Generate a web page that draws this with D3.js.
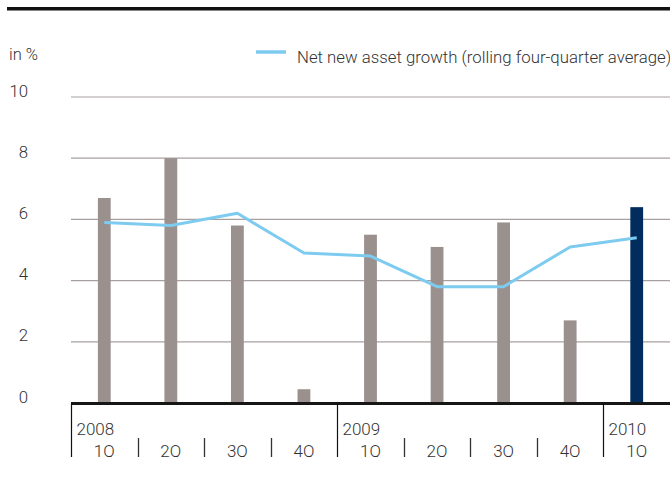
<!DOCTYPE html>
<html>
<head>
<meta charset="utf-8">
<script src="https://cdn.jsdelivr.net/npm/d3@7"></script>
<style>
  html, body { margin: 0; padding: 0; background: #fff; }
  svg { display: block; }
  text { font-family: "Roboto", "Liberation Sans", sans-serif; font-weight: 300; fill: #333; }
</style>
</head>
<body>
<svg id="chart" width="670" height="482"></svg>
<script>
// Quarterly net new asset growth, in %
const quarters = ["1Q", "2Q", "3Q", "4Q", "1Q", "2Q", "3Q", "4Q", "1Q"];
const years = ["2008", "2009", "2010"];
const yearStart = [0, 4, 8];            // index of the first quarter of each year
const quarterlyGrowth = [6.7, 8.0, 5.8, 0.45, 5.5, 5.1, 5.9, 2.7, 6.4];
const rollingAverage = [5.9, 5.8, 6.2, 4.9, 4.8, 3.8, 3.8, 5.1, 5.4];
const yTicks = [0, 2, 4, 6, 8, 10];
const legendLabel = "Net new asset growth (rolling four-quarter average)";

const svg = d3.select("#chart");
const W = 670;

const x = d3.scaleBand().domain(d3.range(quarters.length)).range([71, 670]).padding(0);
const y = d3.scaleLinear().domain([0, 10]).range([403, 97]);
const cx = i => x(i) + x.bandwidth() / 2;

// clip lower edge of the axis labels
svg.append("defs").append("clipPath").attr("id", "clip")
  .append("rect").attr("x", 0).attr("y", 0).attr("width", W).attr("height", 457);
const g = svg.append("g").attr("clip-path", "url(#clip)");

// top rule
g.append("rect").attr("x", 7).attr("y", 7).attr("width", W - 7).attr("height", 3.5).attr("fill", "#111");

// unit label
g.append("text").attr("x", 9).attr("y", 60).style("font-size", "16.5px").text("in %");

// legend
g.append("line").attr("x1", 256).attr("x2", 286).attr("y1", 52).attr("y2", 52)
  .attr("stroke", "#7ecbf0").attr("stroke-width", 3.5);
g.append("text").attr("x", 297).attr("y", 63).style("font-size", "16.8px").text(legendLabel);

// gridlines and y labels
g.append("g").selectAll("line").data(yTicks.filter(d => d > 0)).join("line")
  .attr("x1", 71).attr("x2", W)
  .attr("y1", d => y(d)).attr("y2", d => y(d))
  .attr("stroke", "#a8a0a0").attr("stroke-width", 1.2);
g.append("g").selectAll("text").data(yTicks).join("text")
  .attr("x", 28).attr("y", d => y(d) - 0.5)
  .attr("text-anchor", "end").style("font-size", "16.8px")
  .text(d => d);

// bars
g.append("g").selectAll("rect").data(quarterlyGrowth).join("rect")
  .attr("x", (d, i) => cx(i) - 6.4)
  .attr("width", 12.8)
  .attr("y", d => y(d))
  .attr("height", d => y(0) - y(d))
  .attr("fill", (d, i) => i === quarterlyGrowth.length - 1 ? "#002d5e" : "#9a908e");

// rolling average line
g.append("path").datum(rollingAverage)
  .attr("d", d3.line().x((d, i) => cx(i)).y(d => y(d)))
  .attr("fill", "none").attr("stroke", "#7ecbf0").attr("stroke-width", 3)
  .attr("stroke-linejoin", "round");

// x axis baseline
g.append("line").attr("x1", 71).attr("x2", W).attr("y1", 403.5).attr("y2", 403.5)
  .attr("stroke", "#161616").attr("stroke-width", 3);

// year separators and labels
yearStart.forEach((s, k) => {
  const xs = Math.round(x(s)) + 0.5;
  g.append("line").attr("x1", xs).attr("x2", xs).attr("y1", 403).attr("y2", 460)
    .attr("stroke", "#111").attr("stroke-width", 1.2);
  g.append("text").attr("x", xs + 5).attr("y", 435).style("font-size", "17px").text(years[k]);
});

// quarter separators
g.append("g").selectAll("line")
  .data(d3.range(1, quarters.length).filter(i => !yearStart.includes(i)))
  .join("line")
  .attr("x1", i => Math.round(x(i)) + 0.5).attr("x2", i => Math.round(x(i)) + 0.5)
  .attr("y1", 438).attr("y2", 460)
  .attr("stroke", "#333").attr("stroke-width", 1.3);

// quarter labels
g.append("g").selectAll("text").data(quarters).join("text")
  .attr("x", (d, i) => cx(i)).attr("y", 456.5)
  .attr("text-anchor", "middle").style("font-size", "17px")
  .text(d => d);
</script>
</body>
</html>
